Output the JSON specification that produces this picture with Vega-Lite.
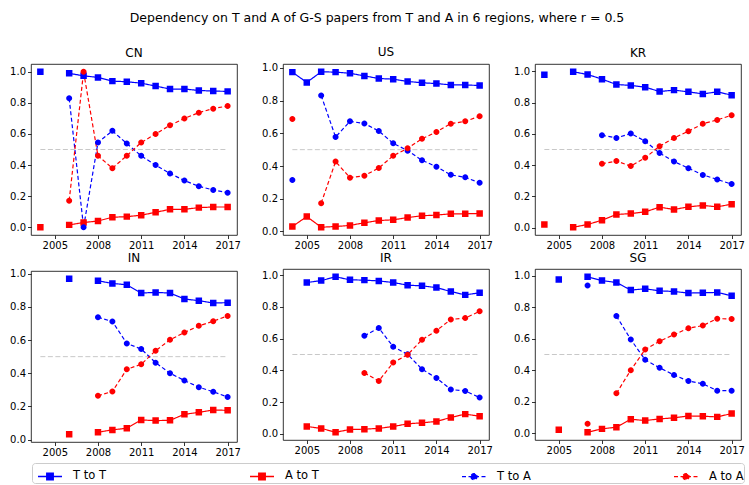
{
"$schema": "https://vega.github.io/schema/vega-lite/v6.json",
"padding": {"left": 9, "top": 11, "right": 4, "bottom": 0},
"title": {"text": "Dependency on T and A of G-S papers from T and A in 6 regions, where r = 0.5", "fontSize": 12.5, "fontWeight": "normal", "font": "DejaVu Sans", "color": "#000", "anchor": "middle", "offset": 21},
"data": {"values": [
{"r":"CN","s":"T to T","y":2004,"v":1.0},{"r":"CN","s":"T to T","y":2005,"v":null},{"r":"CN","s":"T to T","y":2006,"v":0.99},{"r":"CN","s":"T to T","y":2007,"v":0.974},{"r":"CN","s":"T to T","y":2008,"v":0.964},{"r":"CN","s":"T to T","y":2009,"v":0.94},{"r":"CN","s":"T to T","y":2010,"v":0.936},{"r":"CN","s":"T to T","y":2011,"v":0.927},{"r":"CN","s":"T to T","y":2012,"v":0.908},{"r":"CN","s":"T to T","y":2013,"v":0.889},{"r":"CN","s":"T to T","y":2014,"v":0.889},{"r":"CN","s":"T to T","y":2015,"v":0.88},{"r":"CN","s":"T to T","y":2016,"v":0.876},{"r":"CN","s":"T to T","y":2017,"v":0.874},
{"r":"CN","s":"A to T","y":2004,"v":0.0},{"r":"CN","s":"A to T","y":2005,"v":null},{"r":"CN","s":"A to T","y":2006,"v":0.015},{"r":"CN","s":"A to T","y":2007,"v":0.03},{"r":"CN","s":"A to T","y":2008,"v":0.04},{"r":"CN","s":"A to T","y":2009,"v":0.064},{"r":"CN","s":"A to T","y":2010,"v":0.068},{"r":"CN","s":"A to T","y":2011,"v":0.077},{"r":"CN","s":"A to T","y":2012,"v":0.096},{"r":"CN","s":"A to T","y":2013,"v":0.115},{"r":"CN","s":"A to T","y":2014,"v":0.115},{"r":"CN","s":"A to T","y":2015,"v":0.126},{"r":"CN","s":"A to T","y":2016,"v":0.13},{"r":"CN","s":"A to T","y":2017,"v":0.13},
{"r":"CN","s":"T to A","y":2006,"v":0.829},{"r":"CN","s":"T to A","y":2007,"v":0.0},{"r":"CN","s":"T to A","y":2008,"v":0.545},{"r":"CN","s":"T to A","y":2009,"v":0.62},{"r":"CN","s":"T to A","y":2010,"v":0.538},{"r":"CN","s":"T to A","y":2011,"v":0.459},{"r":"CN","s":"T to A","y":2012,"v":0.40},{"r":"CN","s":"T to A","y":2013,"v":0.346},{"r":"CN","s":"T to A","y":2014,"v":0.30},{"r":"CN","s":"T to A","y":2015,"v":0.263},{"r":"CN","s":"T to A","y":2016,"v":0.24},{"r":"CN","s":"T to A","y":2017,"v":0.222},
{"r":"CN","s":"A to A","y":2006,"v":0.171},{"r":"CN","s":"A to A","y":2007,"v":1.0},{"r":"CN","s":"A to A","y":2008,"v":0.459},{"r":"CN","s":"A to A","y":2009,"v":0.38},{"r":"CN","s":"A to A","y":2010,"v":0.46},{"r":"CN","s":"A to A","y":2011,"v":0.545},{"r":"CN","s":"A to A","y":2012,"v":0.60},{"r":"CN","s":"A to A","y":2013,"v":0.656},{"r":"CN","s":"A to A","y":2014,"v":0.70},{"r":"CN","s":"A to A","y":2015,"v":0.737},{"r":"CN","s":"A to A","y":2016,"v":0.763},{"r":"CN","s":"A to A","y":2017,"v":0.78},

{"r":"US","s":"T to T","y":2004,"v":0.974},{"r":"US","s":"T to T","y":2005,"v":0.911},{"r":"US","s":"T to T","y":2006,"v":0.976},{"r":"US","s":"T to T","y":2007,"v":0.974},{"r":"US","s":"T to T","y":2008,"v":0.967},{"r":"US","s":"T to T","y":2009,"v":0.951},{"r":"US","s":"T to T","y":2010,"v":0.935},{"r":"US","s":"T to T","y":2011,"v":0.931},{"r":"US","s":"T to T","y":2012,"v":0.917},{"r":"US","s":"T to T","y":2013,"v":0.909},{"r":"US","s":"T to T","y":2014,"v":0.904},{"r":"US","s":"T to T","y":2015,"v":0.896},{"r":"US","s":"T to T","y":2016,"v":0.896},{"r":"US","s":"T to T","y":2017,"v":0.892},
{"r":"US","s":"A to T","y":2004,"v":0.03},{"r":"US","s":"A to T","y":2005,"v":0.091},{"r":"US","s":"A to T","y":2006,"v":0.026},{"r":"US","s":"A to T","y":2007,"v":0.03},{"r":"US","s":"A to T","y":2008,"v":0.037},{"r":"US","s":"A to T","y":2009,"v":0.053},{"r":"US","s":"A to T","y":2010,"v":0.067},{"r":"US","s":"A to T","y":2011,"v":0.071},{"r":"US","s":"A to T","y":2012,"v":0.085},{"r":"US","s":"A to T","y":2013,"v":0.096},{"r":"US","s":"A to T","y":2014,"v":0.1},{"r":"US","s":"A to T","y":2015,"v":0.108},{"r":"US","s":"A to T","y":2016,"v":0.108},{"r":"US","s":"A to T","y":2017,"v":0.11},
{"r":"US","s":"T to A","y":2004,"v":0.315},{"r":"US","s":"T to A","y":2005,"v":null},{"r":"US","s":"T to A","y":2006,"v":0.831},{"r":"US","s":"T to A","y":2007,"v":0.577},{"r":"US","s":"T to A","y":2008,"v":0.673},{"r":"US","s":"T to A","y":2009,"v":0.66},{"r":"US","s":"T to A","y":2010,"v":0.614},{"r":"US","s":"T to A","y":2011,"v":0.539},{"r":"US","s":"T to A","y":2012,"v":0.494},{"r":"US","s":"T to A","y":2013,"v":0.435},{"r":"US","s":"T to A","y":2014,"v":0.396},{"r":"US","s":"T to A","y":2015,"v":0.346},{"r":"US","s":"T to A","y":2016,"v":0.331},{"r":"US","s":"T to A","y":2017,"v":0.297},
{"r":"US","s":"A to A","y":2004,"v":0.687},{"r":"US","s":"A to A","y":2005,"v":null},{"r":"US","s":"A to A","y":2006,"v":0.173},{"r":"US","s":"A to A","y":2007,"v":0.427},{"r":"US","s":"A to A","y":2008,"v":0.329},{"r":"US","s":"A to A","y":2009,"v":0.341},{"r":"US","s":"A to A","y":2010,"v":0.388},{"r":"US","s":"A to A","y":2011,"v":0.463},{"r":"US","s":"A to A","y":2012,"v":0.508},{"r":"US","s":"A to A","y":2013,"v":0.567},{"r":"US","s":"A to A","y":2014,"v":0.608},{"r":"US","s":"A to A","y":2015,"v":0.659},{"r":"US","s":"A to A","y":2016,"v":0.673},{"r":"US","s":"A to A","y":2017,"v":0.705},

{"r":"KR","s":"T to T","y":2004,"v":0.977},{"r":"KR","s":"T to T","y":2005,"v":null},{"r":"KR","s":"T to T","y":2006,"v":0.996},{"r":"KR","s":"T to T","y":2007,"v":0.979},{"r":"KR","s":"T to T","y":2008,"v":0.949},{"r":"KR","s":"T to T","y":2009,"v":0.915},{"r":"KR","s":"T to T","y":2010,"v":0.909},{"r":"KR","s":"T to T","y":2011,"v":0.898},{"r":"KR","s":"T to T","y":2012,"v":0.87},{"r":"KR","s":"T to T","y":2013,"v":0.879},{"r":"KR","s":"T to T","y":2014,"v":0.868},{"r":"KR","s":"T to T","y":2015,"v":0.855},{"r":"KR","s":"T to T","y":2016,"v":0.868},{"r":"KR","s":"T to T","y":2017,"v":0.847},
{"r":"KR","s":"A to T","y":2004,"v":0.021},{"r":"KR","s":"A to T","y":2005,"v":null},{"r":"KR","s":"A to T","y":2006,"v":0.004},{"r":"KR","s":"A to T","y":2007,"v":0.021},{"r":"KR","s":"A to T","y":2008,"v":0.049},{"r":"KR","s":"A to T","y":2009,"v":0.085},{"r":"KR","s":"A to T","y":2010,"v":0.091},{"r":"KR","s":"A to T","y":2011,"v":0.102},{"r":"KR","s":"A to T","y":2012,"v":0.132},{"r":"KR","s":"A to T","y":2013,"v":0.117},{"r":"KR","s":"A to T","y":2014,"v":0.134},{"r":"KR","s":"A to T","y":2015,"v":0.143},{"r":"KR","s":"A to T","y":2016,"v":0.134},{"r":"KR","s":"A to T","y":2017,"v":0.151},
{"r":"KR","s":"T to A","y":2008,"v":0.591},{"r":"KR","s":"T to A","y":2009,"v":0.574},{"r":"KR","s":"T to A","y":2010,"v":0.602},{"r":"KR","s":"T to A","y":2011,"v":0.553},{"r":"KR","s":"T to A","y":2012,"v":0.477},{"r":"KR","s":"T to A","y":2013,"v":0.423},{"r":"KR","s":"T to A","y":2014,"v":0.381},{"r":"KR","s":"T to A","y":2015,"v":0.338},{"r":"KR","s":"T to A","y":2016,"v":0.309},{"r":"KR","s":"T to A","y":2017,"v":0.279},
{"r":"KR","s":"A to A","y":2008,"v":0.409},{"r":"KR","s":"A to A","y":2009,"v":0.426},{"r":"KR","s":"A to A","y":2010,"v":0.394},{"r":"KR","s":"A to A","y":2011,"v":0.447},{"r":"KR","s":"A to A","y":2012,"v":0.521},{"r":"KR","s":"A to A","y":2013,"v":0.574},{"r":"KR","s":"A to A","y":2014,"v":0.617},{"r":"KR","s":"A to A","y":2015,"v":0.664},{"r":"KR","s":"A to A","y":2016,"v":0.689},{"r":"KR","s":"A to A","y":2017,"v":0.719},

{"r":"IN","s":"T to T","y":2006,"v":0.97},{"r":"IN","s":"T to T","y":2007,"v":null},{"r":"IN","s":"T to T","y":2008,"v":0.958},{"r":"IN","s":"T to T","y":2009,"v":0.942},{"r":"IN","s":"T to T","y":2010,"v":0.934},{"r":"IN","s":"T to T","y":2011,"v":0.884},{"r":"IN","s":"T to T","y":2012,"v":0.888},{"r":"IN","s":"T to T","y":2013,"v":0.884},{"r":"IN","s":"T to T","y":2014,"v":0.848},{"r":"IN","s":"T to T","y":2015,"v":0.838},{"r":"IN","s":"T to T","y":2016,"v":0.824},{"r":"IN","s":"T to T","y":2017,"v":0.826},
{"r":"IN","s":"A to T","y":2006,"v":0.032},{"r":"IN","s":"A to T","y":2007,"v":null},{"r":"IN","s":"A to T","y":2008,"v":0.044},{"r":"IN","s":"A to T","y":2009,"v":0.058},{"r":"IN","s":"A to T","y":2010,"v":0.068},{"r":"IN","s":"A to T","y":2011,"v":0.118},{"r":"IN","s":"A to T","y":2012,"v":0.114},{"r":"IN","s":"A to T","y":2013,"v":0.116},{"r":"IN","s":"A to T","y":2014,"v":0.152},{"r":"IN","s":"A to T","y":2015,"v":0.164},{"r":"IN","s":"A to T","y":2016,"v":0.178},{"r":"IN","s":"A to T","y":2017,"v":0.176},
{"r":"IN","s":"T to A","y":2008,"v":0.738},{"r":"IN","s":"T to A","y":2009,"v":0.712},{"r":"IN","s":"T to A","y":2010,"v":0.58},{"r":"IN","s":"T to A","y":2011,"v":0.546},{"r":"IN","s":"T to A","y":2012,"v":0.464},{"r":"IN","s":"T to A","y":2013,"v":0.40},{"r":"IN","s":"T to A","y":2014,"v":0.356},{"r":"IN","s":"T to A","y":2015,"v":0.316},{"r":"IN","s":"T to A","y":2016,"v":0.288},{"r":"IN","s":"T to A","y":2017,"v":0.256},
{"r":"IN","s":"A to A","y":2008,"v":0.264},{"r":"IN","s":"A to A","y":2009,"v":0.29},{"r":"IN","s":"A to A","y":2010,"v":0.424},{"r":"IN","s":"A to A","y":2011,"v":0.454},{"r":"IN","s":"A to A","y":2012,"v":0.536},{"r":"IN","s":"A to A","y":2013,"v":0.602},{"r":"IN","s":"A to A","y":2014,"v":0.646},{"r":"IN","s":"A to A","y":2015,"v":0.686},{"r":"IN","s":"A to A","y":2016,"v":0.714},{"r":"IN","s":"A to A","y":2017,"v":0.746},

{"r":"IR","s":"T to T","y":2005,"v":0.954},{"r":"IR","s":"T to T","y":2006,"v":0.966},{"r":"IR","s":"T to T","y":2007,"v":0.99},{"r":"IR","s":"T to T","y":2008,"v":0.971},{"r":"IR","s":"T to T","y":2009,"v":0.969},{"r":"IR","s":"T to T","y":2010,"v":0.964},{"r":"IR","s":"T to T","y":2011,"v":0.954},{"r":"IR","s":"T to T","y":2012,"v":0.937},{"r":"IR","s":"T to T","y":2013,"v":0.933},{"r":"IR","s":"T to T","y":2014,"v":0.922},{"r":"IR","s":"T to T","y":2015,"v":0.897},{"r":"IR","s":"T to T","y":2016,"v":0.876},{"r":"IR","s":"T to T","y":2017,"v":0.889},
{"r":"IR","s":"A to T","y":2005,"v":0.046},{"r":"IR","s":"A to T","y":2006,"v":0.034},{"r":"IR","s":"A to T","y":2007,"v":0.01},{"r":"IR","s":"A to T","y":2008,"v":0.027},{"r":"IR","s":"A to T","y":2009,"v":0.029},{"r":"IR","s":"A to T","y":2010,"v":0.034},{"r":"IR","s":"A to T","y":2011,"v":0.046},{"r":"IR","s":"A to T","y":2012,"v":0.063},{"r":"IR","s":"A to T","y":2013,"v":0.069},{"r":"IR","s":"A to T","y":2014,"v":0.078},{"r":"IR","s":"A to T","y":2015,"v":0.103},{"r":"IR","s":"A to T","y":2016,"v":0.124},{"r":"IR","s":"A to T","y":2017,"v":0.111},
{"r":"IR","s":"T to A","y":2009,"v":0.618},{"r":"IR","s":"T to A","y":2010,"v":0.667},{"r":"IR","s":"T to A","y":2011,"v":0.549},{"r":"IR","s":"T to A","y":2012,"v":0.501},{"r":"IR","s":"T to A","y":2013,"v":0.407},{"r":"IR","s":"T to A","y":2014,"v":0.352},{"r":"IR","s":"T to A","y":2015,"v":0.279},{"r":"IR","s":"T to A","y":2016,"v":0.27},{"r":"IR","s":"T to A","y":2017,"v":0.229},
{"r":"IR","s":"A to A","y":2009,"v":0.384},{"r":"IR","s":"A to A","y":2010,"v":0.333},{"r":"IR","s":"A to A","y":2011,"v":0.449},{"r":"IR","s":"A to A","y":2012,"v":0.499},{"r":"IR","s":"A to A","y":2013,"v":0.593},{"r":"IR","s":"A to A","y":2014,"v":0.65},{"r":"IR","s":"A to A","y":2015,"v":0.721},{"r":"IR","s":"A to A","y":2016,"v":0.73},{"r":"IR","s":"A to A","y":2017,"v":0.772},

{"r":"SG","s":"T to T","y":2005,"v":0.975},{"r":"SG","s":"T to T","y":2006,"v":null},{"r":"SG","s":"T to T","y":2007,"v":0.992},{"r":"SG","s":"T to T","y":2008,"v":0.968},{"r":"SG","s":"T to T","y":2009,"v":0.956},{"r":"SG","s":"T to T","y":2010,"v":0.908},{"r":"SG","s":"T to T","y":2011,"v":0.916},{"r":"SG","s":"T to T","y":2012,"v":0.903},{"r":"SG","s":"T to T","y":2013,"v":0.899},{"r":"SG","s":"T to T","y":2014,"v":0.889},{"r":"SG","s":"T to T","y":2015,"v":0.891},{"r":"SG","s":"T to T","y":2016,"v":0.893},{"r":"SG","s":"T to T","y":2017,"v":0.872},
{"r":"SG","s":"A to T","y":2005,"v":0.023},{"r":"SG","s":"A to T","y":2006,"v":null},{"r":"SG","s":"A to T","y":2007,"v":0.008},{"r":"SG","s":"A to T","y":2008,"v":0.029},{"r":"SG","s":"A to T","y":2009,"v":0.04},{"r":"SG","s":"A to T","y":2010,"v":0.09},{"r":"SG","s":"A to T","y":2011,"v":0.082},{"r":"SG","s":"A to T","y":2012,"v":0.092},{"r":"SG","s":"A to T","y":2013,"v":0.099},{"r":"SG","s":"A to T","y":2014,"v":0.111},{"r":"SG","s":"A to T","y":2015,"v":0.109},{"r":"SG","s":"A to T","y":2016,"v":0.105},{"r":"SG","s":"A to T","y":2017,"v":0.126},
{"r":"SG","s":"T to A","y":2007,"v":0.937},{"r":"SG","s":"T to A","y":2008,"v":null},{"r":"SG","s":"T to A","y":2009,"v":0.744},{"r":"SG","s":"T to A","y":2010,"v":0.595},{"r":"SG","s":"T to A","y":2011,"v":0.466},{"r":"SG","s":"T to A","y":2012,"v":0.416},{"r":"SG","s":"T to A","y":2013,"v":0.37},{"r":"SG","s":"T to A","y":2014,"v":0.332},{"r":"SG","s":"T to A","y":2015,"v":0.315},{"r":"SG","s":"T to A","y":2016,"v":0.271},{"r":"SG","s":"T to A","y":2017,"v":0.271},
{"r":"SG","s":"A to A","y":2007,"v":0.061},{"r":"SG","s":"A to A","y":2008,"v":null},{"r":"SG","s":"A to A","y":2009,"v":0.254},{"r":"SG","s":"A to A","y":2010,"v":0.401},{"r":"SG","s":"A to A","y":2011,"v":0.532},{"r":"SG","s":"A to A","y":2012,"v":0.584},{"r":"SG","s":"A to A","y":2013,"v":0.626},{"r":"SG","s":"A to A","y":2014,"v":0.666},{"r":"SG","s":"A to A","y":2015,"v":0.683},{"r":"SG","s":"A to A","y":2016,"v":0.727},{"r":"SG","s":"A to A","y":2017,"v":0.725}
]},
"facet": {"field": "r", "type": "nominal", "sort": ["CN","US","KR","IN","IR","SG"], "title": null, "header": {"labelFontSize": 12, "labelFont": "DejaVu Sans", "labelColor": "#000", "labelPadding": 4}},
"columns": 3,
"spacing": {"row": 0, "column": 20},
"spec": {
  "width": 206,
  "height": 171,
  "layer": [
    {"transform": [{"aggregate": [{"op": "count", "as": "n"}]}],
     "mark": {"type": "rule", "color": "#c8c8c8", "strokeDash": [5, 2.5], "strokeWidth": 1},
     "encoding": {"x": {"datum": 2004, "type": "quantitative"}, "x2": {"datum": 2017}, "y": {"datum": 0.5, "type": "quantitative"}}},
    {"mark": {"type": "line", "strokeWidth": 1.2, "invalid": "break-paths-filter-domains"},
     "encoding": {
       "x": {"field": "y", "type": "quantitative", "scale": {"domain": [2003.35, 2017.65], "nice": false, "zero": false}, "axis": {"values": [2005, 2008, 2011, 2014, 2017], "tickCount": 12, "format": "d", "title": null, "labelOverlap": false}},
       "y": {"field": "v", "type": "quantitative", "scale": {"zero": false, "nice": false, "padding": 7.8}, "axis": {"values": [0, 0.2, 0.4, 0.6, 0.8, 1.0], "tickCount": 12, "format": ".1f", "title": null, "labelOverlap": false}},
       "color": {"field": "s", "type": "nominal", "scale": {"domain": ["T to T", "A to T", "T to A", "A to A"], "range": ["#0000ff", "#ff0000", "#0000ff", "#ff0000"]},
         "legend": {"title": null, "orient": "none", "legendX": 1, "legendY": 399, "direction": "horizontal", "columns": 4, "gridAlign": "all", "columnPadding": 136, "symbolSize": 576, "labelFontSize": 11.5, "labelFont": "DejaVu Sans", "labelColor": "#000", "padding": 0, "symbolOffset": 5, "strokeColor": "#cccccc", "fillColor": "#ffffff", "cornerRadius": 3, "symbolStrokeWidth": 1.4, "labelOffset": 10}},
       "strokeDash": {"field": "s", "type": "nominal", "scale": {"domain": ["T to T", "A to T", "T to A", "A to A"], "range": [[1, 0], [1, 0], [4, 2.5], [4, 2.5]]}}
     }},
    {"mark": {"type": "point", "filled": true, "opacity": 1},
     "encoding": {
       "x": {"field": "y", "type": "quantitative"},
       "y": {"field": "v", "type": "quantitative"},
       "color": {"field": "s", "type": "nominal"},
       "shape": {"field": "s", "type": "nominal", "scale": {"domain": ["T to T", "A to T", "T to A", "A to A"], "range": ["M-1,0H1M-0.27,-0.27H0.27V0.27H-0.27Z", "M-1,0H1M-0.27,-0.27H0.27V0.27H-0.27Z", "M-1,0H1M-0.25,0A0.25,0.25,0,1,0,0.25,0A0.25,0.25,0,1,0,-0.25,0Z", "M-1,0H1M-0.25,0A0.25,0.25,0,1,0,0.25,0A0.25,0.25,0,1,0,-0.25,0Z"]}},
       "size": {"value": 576}
     }}
  ]
},
"resolve": {"scale": {"y": "independent"}, "axis": {"x": "independent", "y": "independent"}},
"config": {
  "font": "DejaVu Sans",
  "view": {"stroke": "#000", "strokeWidth": 0.8},
  "axis": {"grid": false, "domain": false, "tickColor": "#000", "tickSize": 3.5, "tickWidth": 0.8, "labelColor": "#000", "labelFontSize": 10, "labelFont": "DejaVu Sans", "labelPadding": 2, "labelOverlap": false, "labelFlush": false, "labelBound": false}
}
}
